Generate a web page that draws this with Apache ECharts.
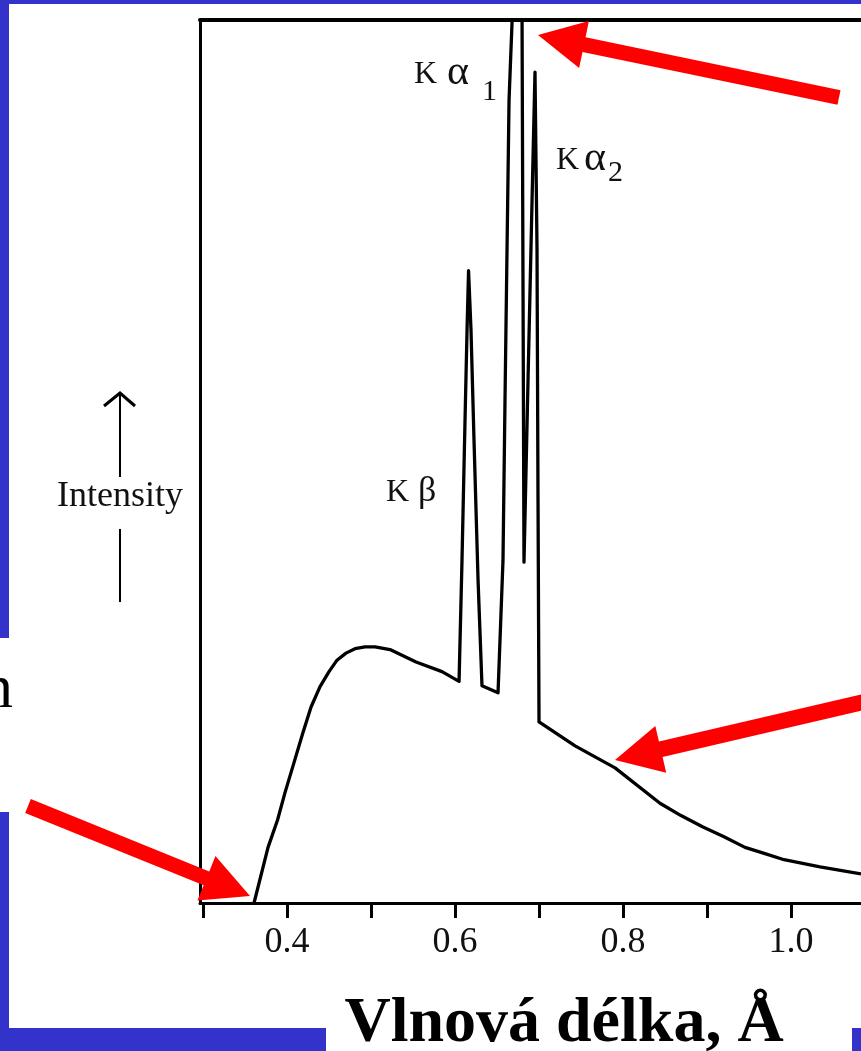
<!DOCTYPE html>
<html>
<head>
<meta charset="utf-8">
<script src="https://cdn.jsdelivr.net/npm/echarts@6/dist/echarts.min.js"></script>
<style>
html,body{margin:0;padding:0;background:#3333cc;}
#chart{width:861px;height:1051px;}
</style>
</head>
<body>
<div id="chart"></div>
<script>
// Wavelength (Å) and relative intensity
const wavelength = [0.3607,0.3774,0.3887,0.3976,0.4083,0.4190,0.4286,0.4393,0.4500,0.4595,0.4702,0.4810,0.4929,0.5048,
  0.5226,0.5536,0.5845,0.6048,
  0.6083,0.6119,0.6143,0.6161,0.6190,0.6226,0.6274,0.6321,0.6512,
  0.6571,0.6595,0.6643,0.6679,0.6738,0.6798,0.6810,0.6821,
  0.6869,0.6917,0.6952,0.6976,0.6988,0.7000,
  0.7429,0.7905,0.8440,0.8690,0.8952,0.9202,0.9452,0.9690,0.9917,1.0345,1.0833];
const intensity = [0,6.3,9.4,12.5,15.9,19.3,22.2,24.5,26.2,27.5,28.3,28.8,29.0,29.0,
  28.7,27.3,26.2,25.1,
  38.8,54.7,64.9,71.6,64.9,52.4,36.6,24.6,23.8,
  38.8,57.0,90.9,99.8,109.0,99.8,68.3,38.6,
  59.2,79.6,94.1,74.0,45.6,20.5,
  17.8,15.3,11.3,9.9,8.6,7.5,6.3,5.6,4.9,4.1,3.3];
const tickValues = [0.3,0.4,0.5,0.6,0.7,0.8,0.9,1.0];
const labelValues = [0.4,0.6,0.8,1.0];
const xMin = 0.2964, xMax = 1.0833;

const data = wavelength.map((w, i) => [w, intensity[i]]);

function arrowPoly(tail, tip, sw, hl, hw) {
  const dx = tip[0] - tail[0], dy = tip[1] - tail[1];
  const L = Math.hypot(dx, dy), ux = dx / L, uy = dy / L, px = -uy, py = ux;
  const bx = tip[0] - ux * hl, by = tip[1] - uy * hl;
  return [[tail[0] + px * sw, tail[1] + py * sw], [bx + px * sw, by + py * sw], [bx + px * hw, by + py * hw],
    tip, [bx - px * hw, by - py * hw], [bx - px * sw, by - py * sw], [tail[0] - px * sw, tail[1] - py * sw]];
}

const serif = '"Liberation Serif", "Times New Roman", serif';
const red = '#ff0000';
function label(text, x, y, size) {
  return {type: 'text', z: 50, style: {text: text, x: x, y: y, align: 'left', verticalAlign: 'middle', font: size + 'px ' + serif, fill: '#111'}};
}

const chart = echarts.init(document.getElementById('chart'), null, {renderer: 'canvas'});
chart.setOption({
  backgroundColor: '#3333cc',
  animation: false,
  grid: {left: 200, right: 0, top: 20, bottom: 148, containLabel: false},
  xAxis: [{
    type: 'value', min: xMin, max: xMax, position: 'bottom',
    axisLine: {show: true, onZero: false, lineStyle: {color: '#000', width: 3}},
    axisTick: {show: true, length: 15, inside: false, customValues: tickValues, lineStyle: {color: '#000', width: 3}},
    axisLabel: {show: true, customValues: labelValues, margin: 22, fontFamily: serif, fontSize: 36, color: '#111',
      formatter: v => v.toFixed(1)},
    splitLine: {show: false}
  }, {
    type: 'value', min: xMin, max: xMax, position: 'top',
    axisLine: {show: true, onZero: false, lineStyle: {color: '#000', width: 4}},
    axisTick: {show: false}, axisLabel: {show: false}, splitLine: {show: false}
  }],
  yAxis: {
    type: 'value', min: 0, max: 100,
    axisLine: {show: true, onZero: false, lineStyle: {color: '#000', width: 3}},
    axisTick: {show: false}, axisLabel: {show: false}, splitLine: {show: false}
  },
  series: [{
    type: 'line', data: data, showSymbol: false, clip: true, smooth: false,
    lineStyle: {color: '#000', width: 3.3, join: 'round'}, z: 5
  }],
  graphic: [
    {type: 'rect', z: -10, shape: {x: 9, y: 4, width: 852, height: 1024}, style: {fill: '#fff'}},
    {type: 'rect', z: -10, shape: {x: 0, y: 638, width: 10, height: 174}, style: {fill: '#fff'}},
    {type: 'rect', z: -10, shape: {x: 326, y: 1027, width: 526, height: 24}, style: {fill: '#fff'}},
    // Intensity arrow
    {type: 'line', z: 50, shape: {x1: 120, y1: 395, x2: 120, y2: 477}, style: {stroke: '#000', lineWidth: 2}},
    {type: 'polyline', z: 50, shape: {points: [[104, 406], [120, 393], [135, 406]]}, style: {stroke: '#000', lineWidth: 3, fill: null}},
    {type: 'line', z: 50, shape: {x1: 120, y1: 529, x2: 120, y2: 602}, style: {stroke: '#000', lineWidth: 2}},
    {type: 'text', z: 50, style: {text: 'Intensity', x: 120, y: 497, align: 'center', verticalAlign: 'middle', font: '36px ' + serif, fill: '#111'}},
    // peak labels
    label('K', 414, 75, 32), label('α', 447, 73, 42), label('1', 482, 92, 30),
    label('K', 556, 161, 32), label('α', 584, 159, 42), label('2', 608, 173, 30),
    label('K', 386, 493, 32), label('β', 418, 492, 36),
    // slide texts
    {type: 'text', z: 50, style: {text: 'n', x: 13, y: 691, align: 'right', verticalAlign: 'middle', font: '62px ' + serif, fill: '#000'}},
    {type: 'text', z: 50, style: {text: 'Vlnová délka, Å', x: 564, y: 1024, align: 'center', verticalAlign: 'middle', font: 'bold 64px ' + serif, fill: '#000'}},
    // red arrows
    {type: 'polygon', z: 60, shape: {points: arrowPoly([839, 97.5], [538, 35], 7.5, 47, 24)}, style: {fill: red}},
    {type: 'polygon', z: 60, shape: {points: arrowPoly([885, 697], [615, 760], 8, 47, 24)}, style: {fill: red}},
    {type: 'polygon', z: 60, shape: {points: arrowPoly([28, 806], [250, 896], 7.5, 47, 24)}, style: {fill: red}}
  ]
});
</script>
</body>
</html>
